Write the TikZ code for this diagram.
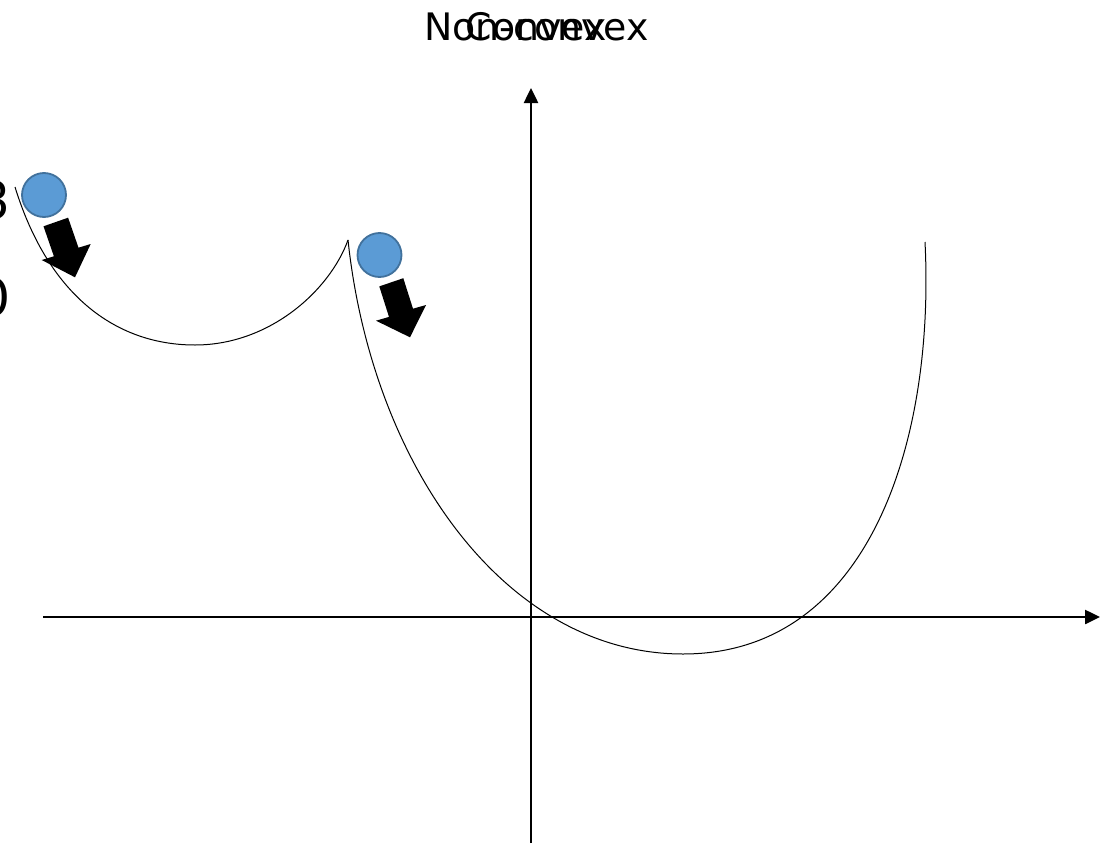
\documentclass[tikz,border=0pt]{standalone}
\usepackage{fontspec}
\setmainfont{Carlito}
\newfontfamily\titlefont{DejaVu Sans}
\definecolor{ballfill}{HTML}{5B9BD5}
\definecolor{balledge}{HTML}{41719C}
\usetikzlibrary{arrows.meta}
\tikzset{
  axis/.style={line width=2.5bp, -{Triangle[length=15bp,width=14bp]}},
  curve/.style={line width=1bp, black},
  ball/.style={circle, fill=ballfill, draw=balledge, line width=1.8bp, minimum size=44bp, inner sep=0pt},
  blockarrow/.style={fill=black, draw=none},
  title/.style={font=\titlefont\fontsize{38}{44}\selectfont, inner sep=0pt},
  cut/.style={font=\fontsize{60}{70}\selectfont, inner sep=0pt}
}
\begin{document}
\begin{tikzpicture}[x=1bp,y=-1bp]
\useasboundingbox (0,0) rectangle (1114,844);
% axes
\coordinate (xs) at (43,617);
\coordinate (xe) at (1100,617);
\coordinate (ys) at (531,843);
\coordinate (ye) at (531,88);
\draw[axis] (xs) -- (xe);
\draw[axis] (ys) -- (ye);
% left arc
\coordinate (l0) at (15,187);
\coordinate (l1) at (195,345);
\coordinate (cusp) at (348,240);
\draw[curve] (l0) .. controls (50,300) and (120,345) .. (l1)
  .. controls (270,345) and (330,290) .. (cusp);
% big curve
\coordinate (m) at (683,654);
\coordinate (r0) at (925,242);
\draw[curve] (cusp) .. controls (372,465) and (505,654) .. (m)
  .. controls (870,654) and (935,440) .. (r0);
% balls
\node[ball] (b1) at (44,195) {};
\node[ball] (b2) at (379.5,255) {};
% block arrows
\fill[blockarrow] (43.5,226.3) -- (68.1,217.7) -- (78.5,247.7) -- (90.7,244) -- (75,277.3) -- (41.7,260) -- (53.9,256.3) -- cycle;
\fill[blockarrow] (379.3,286.4) -- (403.3,278.2) -- (413,308.7) -- (426,305) -- (410,337.3) -- (376,320.7) -- (389,316.9) -- cycle;
% title texts (overlapping, as in the reference)
\node[title] (t1) at (536.5,27) {Non-convex};
\node[title] (t2) at (536.5,27) {Convex};
% cut-off texts
\node[cut] (c1) at (-6,200) {3};
\node[cut] (c2) at (-6,297) {0};
\end{tikzpicture}
\end{document}
